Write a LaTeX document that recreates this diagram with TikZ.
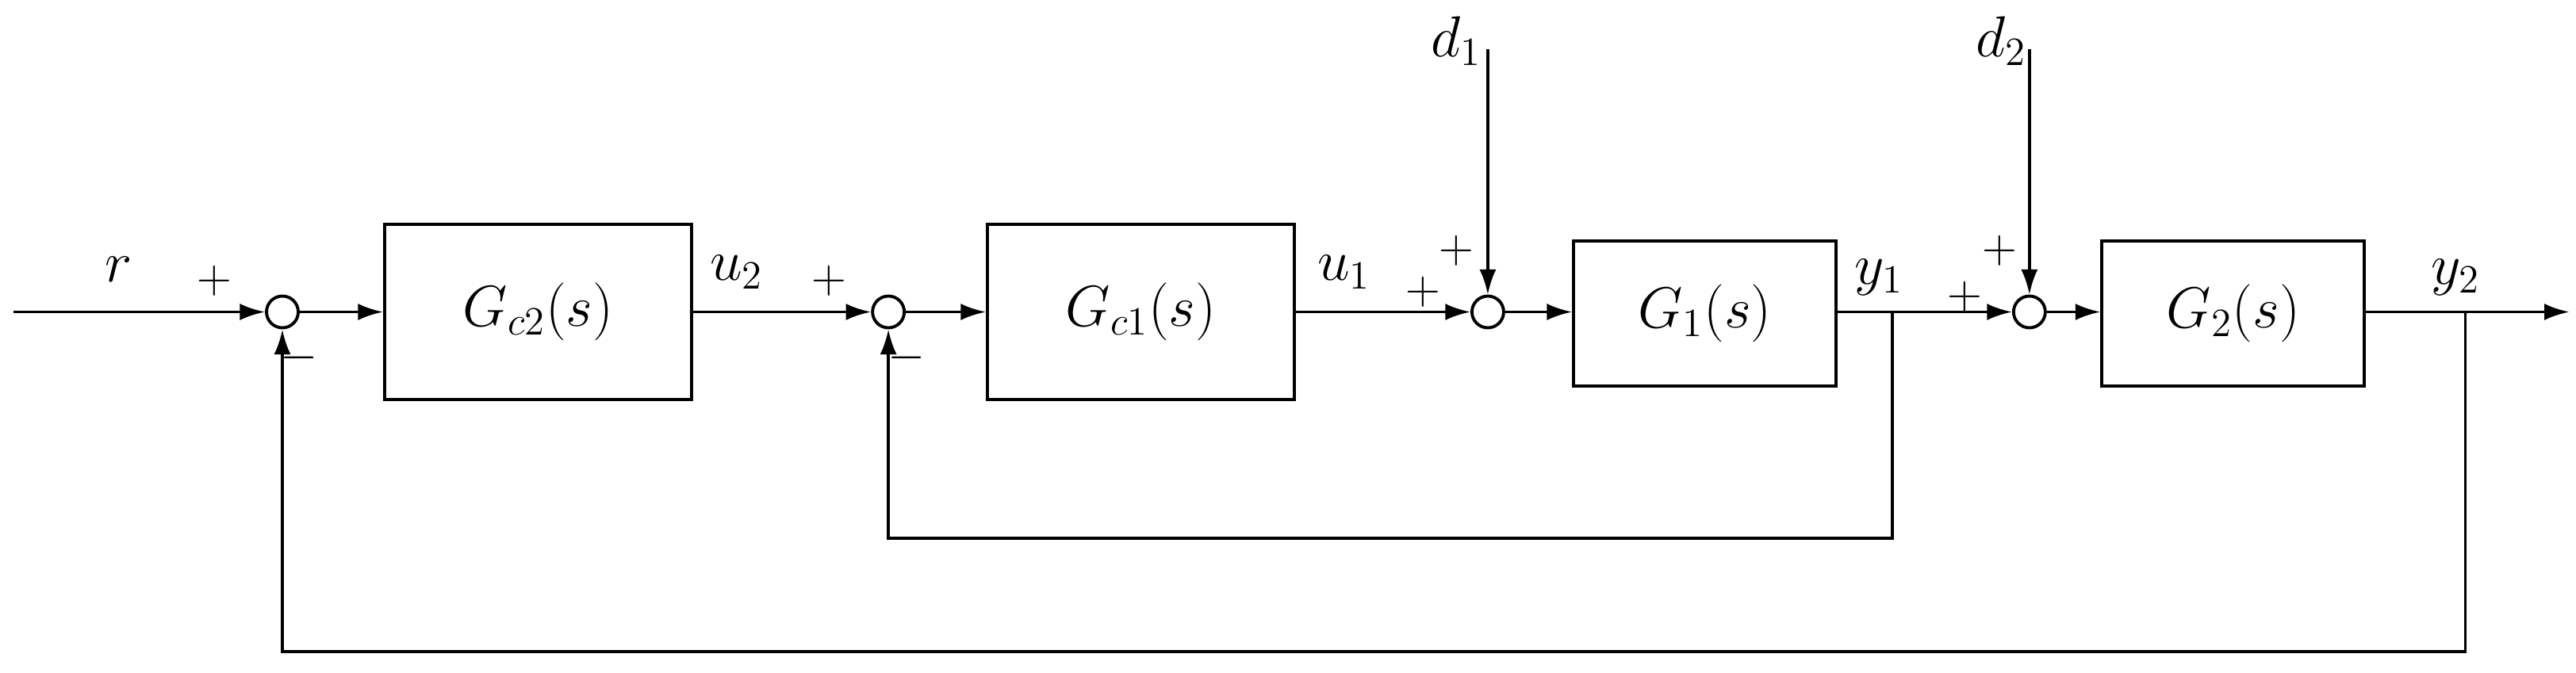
\documentclass[tikz,border=0pt]{standalone}
\usetikzlibrary{arrows.meta}
\begin{document}
\begin{tikzpicture}[x=0.02082cm, y=-0.02082cm, line width=1.1pt,
  font=\fontsize{21}{25}\selectfont,
  block/.style={draw, rectangle, anchor=north west, inner sep=0pt},
  sumpt/.style={draw, circle, minimum size=19\pgflinewidth*0+0.4cm, inner sep=0pt},
  sig/.style={-{Latex[length=9pt,width=6pt]}},
  sign/.style={font=\fontsize{18}{20}\selectfont}]

  \useasboundingbox (0,0) rectangle (1560,407.3);

  % Blocks
  \node[block, minimum width=186*0.02082cm, minimum height=106*0.02082cm] (gc2) at (232,135) {};
  \node at (gc2.center) {$G_{c2}(s)$};
  \node[block, minimum width=186*0.02082cm, minimum height=106*0.02082cm] (gc1) at (597,135) {};
  \node at (gc1.center) {$G_{c1}(s)$};
  \node[block, minimum width=159*0.02082cm, minimum height=88*0.02082cm] (g1) at (952,145) {};
  \node at (g1.center) {$G_{1}(s)$};
  \node[block, minimum width=159*0.02082cm, minimum height=88*0.02082cm] (g2) at (1272,145) {};
  \node at (g2.center) {$G_{2}(s)$};

  % Summing junctions
  \node[sumpt] (s1) at (171,189) {};
  \node[sumpt] (s2) at (538,189) {};
  \node[sumpt] (s3) at (901,189) {};
  \node[sumpt] (s4) at (1229,189) {};

  % Inputs and branch points
  \coordinate (rin) at (8,189);
  \coordinate (d1in) at (901,30);
  \coordinate (d2in) at (1229,30);
  \coordinate (y1b) at (1146,189);
  \coordinate (y2b) at (1493,189);
  \coordinate (yout) at (1556,189);

  % Forward path
  \draw[sig] (rin) -- (s1);
  \draw[sig] (s1) -- (gc2.west |- s1);
  \draw[sig] (gc2.east |- s2) -- (s2);
  \draw[sig] (s2) -- (gc1.west |- s2);
  \draw[sig] (gc1.east |- s3) -- (s3);
  \draw[sig] (s3) -- (g1.west |- s3);
  \draw[sig] (g1.east |- s4) -- (s4);
  \draw[sig] (s4) -- (g2.west |- s4);
  \draw[sig] (g2.east |- yout) -- (yout);
  \draw[sig] (d1in) -- (s3);
  \draw[sig] (d2in) -- (s4);

  % Feedback loops
  \draw[sig] (y1b) -- (1146,326) -- (538,326) -- (s2);
  \draw[sig] (y2b) -- (1493,395) -- (171,395) -- (s1);

  % Labels
  \node at (72,163) {$r$};
  \node at (446,165) {$u_2$};
  \node at (814,165) {$u_1$};
  \node at (1138,168) {$y_1$};
  \node at (1487,168) {$y_2$};
  \node at (882,25) {$d_1$};
  \node at (1212,25) {$d_2$};

  % Signs
  \node[sign] at (130,170) {$+$};
  \node[sign] at (181,217) {$-$};
  \node[sign] at (502,170) {$+$};
  \node[sign] at (549,217) {$-$};
  \node[sign] at (862,177) {$+$};
  \node[sign] at (882,152) {$+$};
  \node[sign] at (1190,180) {$+$};
  \node[sign] at (1211,152) {$+$};

\end{tikzpicture}
\end{document}
